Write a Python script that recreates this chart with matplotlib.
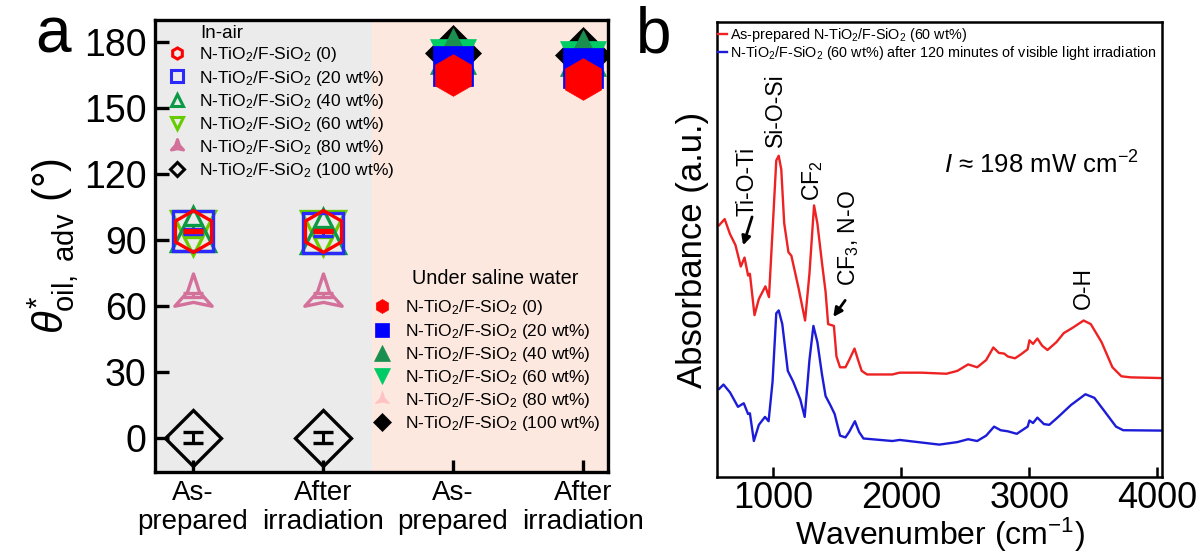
import matplotlib.pyplot as plt
import numpy as np
from matplotlib.lines import Line2D
from matplotlib.path import Path

plt.rcParams['font.family'] = ['Liberation Sans', 'DejaVu Sans']
plt.rcParams['mathtext.fontset'] = 'custom'
plt.rcParams['mathtext.rm'] = 'Liberation Sans'
plt.rcParams['mathtext.it'] = 'Liberation Sans:italic'
plt.rcParams['mathtext.bf'] = 'Liberation Sans:bold'

# ---- (a) advancing oil contact angles ----
conditions = ['As-\nprepared', 'After\nirradiation', 'As-\nprepared', 'After\nirradiation']
loadings = ['0', '20 wt%', '40 wt%', '60 wt%', '80 wt%', '100 wt%']

# in air: [as-prepared, after irradiation] per loading
air_angles = [[94, 94], [94, 93], [95, 94], [93, 93], [65, 65], [0, 0]]
air_errors = [[0.5, 0.5], [1.2, 1.2], [2.0, 2.0], [1.5, 1.5], [0.8, 0.8], [2.5, 2.5]]
# under saline water
saline_angles = [[165, 163], [169, 168], [176, 175], [171, 170], [170, 170], [175, 174]]

# ---- (b) FTIR spectra ----
wn_red = [577, 620, 662, 704, 746, 775, 803, 817, 853, 887, 938, 966, 994, 1023, 1042,
          1062, 1085, 1118, 1141, 1197, 1248, 1282, 1318, 1344, 1380, 1408, 1428, 1473,
          1493, 1521, 1563, 1592, 1634, 1662, 1690, 1732, 1930, 1986, 2155, 2352, 2437,
          2521, 2592, 2662, 2718, 2761, 2803, 2831, 2887, 2930, 2986, 3000, 3028, 3062,
          3099, 3141, 3211, 3268, 3338, 3423, 3479, 3563, 3648, 3718, 3789, 4028]
abs_red = [7.00, 7.17, 6.75, 6.45, 5.85, 6.10, 5.60, 5.65, 4.50, 4.95, 5.30, 5.00, 6.85,
           8.80, 8.93, 8.55, 7.05, 6.25, 6.15, 5.25, 4.35, 5.65, 7.55, 7.05, 5.95, 5.15,
           4.25, 4.20, 3.35, 3.05, 3.05, 3.25, 3.57, 3.25, 2.95, 2.85, 2.85, 2.90, 2.90,
           2.87, 2.95, 3.13, 3.05, 3.25, 3.60, 3.45, 3.43, 3.35, 3.30, 3.40, 3.55, 3.80,
           3.70, 3.85, 3.65, 3.53, 3.75, 4.00, 4.15, 4.35, 4.25, 3.75, 3.05, 2.80, 2.77, 2.75]
wn_blue = [577, 611, 662, 724, 769, 803, 817, 848, 887, 935, 963, 994, 1023, 1042, 1070,
           1113, 1155, 1211, 1245, 1282, 1313, 1344, 1380, 1408, 1445, 1479, 1521, 1563,
           1592, 1637, 1670, 1704, 1930, 1986, 2296, 2437, 2521, 2592, 2662, 2724, 2775,
           2831, 2901, 2986, 3000, 3028, 3062, 3113, 3155, 3225, 3324, 3437, 3507, 3592,
           3676, 3732, 4028]
abs_blue = [2.45, 2.57, 2.35, 1.95, 2.05, 1.75, 1.77, 1.00, 1.45, 1.67, 1.55, 2.65, 4.55,
            4.63, 4.25, 2.95, 2.65, 2.15, 1.67, 3.25, 4.20, 3.75, 2.85, 2.25, 2.00, 1.75,
            1.15, 1.10, 1.25, 1.55, 1.25, 1.07, 1.00, 1.03, 0.90, 0.97, 1.05, 1.00, 1.15,
            1.40, 1.30, 1.27, 1.20, 1.40, 1.57, 1.50, 1.65, 1.47, 1.45, 1.67, 2.00, 2.30,
            2.20, 1.80, 1.40, 1.30, 1.29]

# three-pointed concave star used for the 80 wt% sample
ang = np.deg2rad([90, 150, 210, 270, 330, 30, 90])
rad = np.array([1, 0.32, 1, 0.32, 1, 0.32, 1])
star3 = Path(np.column_stack([rad * np.cos(ang), rad * np.sin(ang)]), closed=True)

air_style = [('h', '#ff0000', 30), ('s', '#2a2aff', 29), ('^', '#0b9a44', 31),
             ('v', '#66cc00', 31), (star3, '#d4719b', 31), ('D', '#000000', 29)]
sal_style = [('h', '#ff0000', 30), ('s', '#0000ff', 29), ('^', '#1a8f4f', 33),
             ('v', '#00cc66', 33), (star3, '#ffc2c2', 32), ('D', '#000000', 29)]
leg_size = [8, 8, 9, 9, 10, 7]

fig = plt.figure(figsize=(12.04, 5.52), dpi=100)
ax = fig.add_axes([0.1287, 0.1449, 0.3762, 0.8188])
axb = fig.add_axes([0.5955, 0.1359, 0.3696, 0.8243])

x_air = np.array([0, 1])
x_sal = np.array([2, 3])
xlo, xhi = -0.29, 3.19
ax.axvspan(xlo, 1.38, color='#ebebeb', lw=0, zorder=0)
ax.axvspan(1.38, xhi, color='#fde8df', lw=0, zorder=0)

air_handles, sal_handles = [], []
# heavier loadings first so the 0 wt% hexagon sits on top
for i in reversed(range(len(loadings))):
    m, c, ms = air_style[i]
    ax.errorbar(x_air, air_angles[i], yerr=air_errors[i], fmt='none', ecolor=c,
                elinewidth=2.2, capsize=7, capthick=2.4, zorder=3 + (5 - i))
    ax.plot(x_air, air_angles[i], ls='none', marker=m, ms=ms, mfc='none', mec=c,
            mew=2.4, zorder=3 + (5 - i))
    m2, c2, ms2 = sal_style[i]
    ax.plot(x_sal, saline_angles[i], ls='none', marker=m2, ms=ms2, mfc=c2, mec=c2,
            mew=0.5, zorder=3 + (5 - i))

for i, lab in enumerate(loadings):
    name = 'N-TiO$_2$/F-SiO$_2$ (%s)' % lab
    m, c, _ = air_style[i]
    air_handles.append(Line2D([], [], ls='none', marker=m, ms=leg_size[i],
                              mfc=c if m is star3 else 'none', mec=c, mew=2.2, label=name))
    m2, c2, _ = sal_style[i]
    sal_handles.append(Line2D([], [], ls='none', marker=m2, ms=leg_size[i] + 2,
                              mfc=c2, mec=c2, mew=0.5, label=name))

leg_kw = dict(loc='upper left', frameon=False, fontsize=12.5, handlelength=1.0,
              handletextpad=0.8, labelspacing=0.24, borderpad=0, borderaxespad=0)
leg1 = ax.legend(handles=air_handles, bbox_to_anchor=(0.029, 0.944), **leg_kw)
ax.add_artist(leg1)
ax.legend(handles=sal_handles, bbox_to_anchor=(0.483, 0.384), **leg_kw)
ax.text(0.148, 0.971, 'In-air', transform=ax.transAxes, ha='center', va='center',
        fontsize=13.5)
ax.text(0.751, 0.429, 'Under saline water', transform=ax.transAxes, ha='center',
        va='center', fontsize=14.3)

ax.set_xlim(xlo, xhi)
ax.set_ylim(-15.5, 190)
ax.set_yticks(np.arange(0, 181, 30))
ax.set_xticks(np.arange(4))
ax.set_xticklabels(conditions, fontsize=20, linespacing=1.15)
ax.tick_params(axis='y', direction='in', length=10, width=2.4, labelsize=27, pad=6)
ax.tick_params(axis='x', direction='in', length=9, width=2.4, pad=6)
for sp in ax.spines.values():
    sp.set_linewidth(2.4)
ax.set_ylabel(r'$\theta^{*}_{\mathrm{oil,\ adv}}$ (°)', fontsize=30, labelpad=2)

# ---- panel b ----
axb.plot(wn_red, abs_red, color='#ee2222', lw=1.7,
         label='As-prepared N-TiO$_2$/F-SiO$_2$ (60 wt%)')
axb.plot(wn_blue, abs_blue, color='#1c1cd8', lw=1.7,
         label='N-TiO$_2$/F-SiO$_2$ (60 wt%) after 120 minutes of visible light irradiation')
axb.set_xlim(560, 4035)
axb.set_ylim(0, 12.65)
axb.set_xticks([1000, 2000, 3000, 4000])
axb.set_yticks([])
axb.tick_params(axis='x', direction='in', length=7, width=1.8, labelsize=26, pad=3)
for sp in axb.spines.values():
    sp.set_linewidth(1.8)
axb.set_xlabel('Wavenumber (cm$^{-1}$)', fontsize=23, labelpad=0)
axb.set_ylabel('Absorbance (a.u.)', fontsize=25, labelpad=6)
axb.legend(loc='upper left', bbox_to_anchor=(0.0, 0.995), frameon=False, fontsize=10.4,
           handlelength=0.6, handletextpad=0.2, labelspacing=0.05, borderpad=0.1,
           borderaxespad=0)

peak_labels = [('Ti-O-Ti', 793, 8.22), ('Si-O-Si', 1020, 10.2), ('CF$_2$', 1310, 8.24),
               ('CF$_3$, N-O', 1585, 6.63), ('O-H', 3420, 5.26)]
for txt, xw, ya in peak_labels:
    axb.text(xw, ya, txt, rotation=90, ha='center', va='center', fontsize=16.5)
arrow = dict(arrowstyle='-|>', color='black', lw=2.0, mutation_scale=13,
             shrinkA=0, shrinkB=0)
axb.annotate('', xy=(764, 6.44), xytext=(834, 7.23), arrowprops=arrow)
axb.annotate('', xy=(1468, 4.45), xytext=(1561, 4.91), arrowprops=arrow)
axb.text(2333, 8.66, r'$I$ ≈ 198 mW cm$^{-2}$', ha='left', va='center', fontsize=18.5)

fig.text(0.029, 0.905, 'a', fontsize=46)
fig.text(0.528, 0.905, 'b', fontsize=46)

fig.savefig('out.png', dpi=100)
